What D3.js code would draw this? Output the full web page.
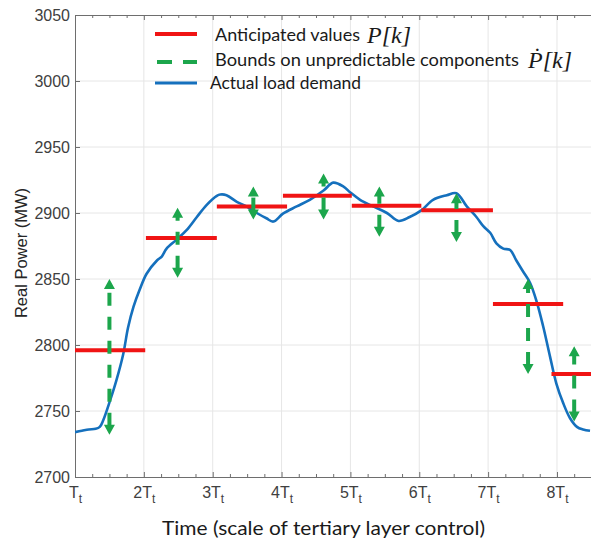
<!DOCTYPE html>
<html lang="en">
<head>
<meta charset="UTF-8">
<title>Load demand vs anticipated values</title>
<style>
  body { margin: 0; background: #fff; }
  svg { display: block; }
  .axis path, .axis line { stroke: #6e6e6e; }
  .axis text { font-family: "Liberation Sans", Arial, sans-serif; font-size: 16px; fill: #404040; }
  .grid line { stroke: #e6e6e6; stroke-width: 1; }
  .label { font-family: Lato, sans-serif; fill: #1a1a1a; }
  .math { font-family: "Liberation Serif", serif; font-size: 24px; font-style: italic; fill: #1a1a1a; }
</style>
<script src="https://d3js.org/d3.v7.min.js"></script>
</head>
<body>
<svg width="591" height="547"></svg>
<script>
// axis ticks
const timeTicks = [1, 2, 3, 4, 5, 6, 7, 8];
const timePrefix = ["", "2", "3", "4", "5", "6", "7", "8"];
const powerTicks = [2700, 2750, 2800, 2850, 2900, 2950, 3000, 3050];

// actual load demand
const demandTime = [1.00, 1.10, 1.20, 1.30, 1.36, 1.41, 1.51, 1.60, 1.70, 1.77, 1.85, 1.94,
  2.04, 2.19, 2.26, 2.33, 2.48, 2.62, 2.77, 2.91, 3.06, 3.11, 3.20, 3.35, 3.49, 3.64, 3.78,
  3.88, 4.02, 4.22, 4.41, 4.61, 4.75, 4.90, 5.00, 5.14, 5.33, 5.53, 5.70, 5.86, 6.03, 6.20,
  6.40, 6.54, 6.69, 6.83, 6.93, 7.03, 7.12, 7.22, 7.32, 7.41, 7.51, 7.61, 7.71, 7.80, 7.90,
  7.99, 8.09, 8.19, 8.29, 8.38, 8.48];
const demandMW = [2734, 2735, 2736, 2736.5, 2738, 2743, 2758, 2773, 2793, 2813, 2829, 2842,
  2854, 2864, 2867, 2873, 2880, 2887, 2897, 2906, 2913, 2914, 2913.5, 2908.5, 2905, 2900, 2896,
  2893.5, 2899.5, 2905, 2910, 2917, 2923, 2920, 2915.5, 2910, 2905, 2900, 2894, 2897, 2902, 2910,
  2913.5, 2915, 2905, 2897, 2890, 2885, 2877, 2873, 2872, 2864, 2855.5, 2847, 2832, 2814, 2791,
  2771, 2756, 2744.5, 2738, 2736, 2735];

// anticipated values P[k]
const segStart = [1.00, 2.03, 3.06, 4.02, 5.02, 6.03, 7.07, 7.92];
const segEnd   = [2.02, 3.06, 4.08, 5.02, 6.03, 7.07, 8.09, 8.60];
const segMW    = [2796, 2881, 2905, 2913, 2905.5, 2902, 2831, 2778];

// bounds on unpredictable components
const boundTime  = [1.50, 2.49, 3.59, 4.61, 5.42, 6.54, 7.58, 8.25];
const boundUpper = [2850, 2904, 2920, 2930, 2920, 2915, 2850, 2799];
const boundLower = [2732, 2851, 2895, 2895, 2882, 2878, 2778, 2742];

const RED = "#f01414", GREEN = "#1ca64c", BLUE = "#1570bd";

const svg = d3.select("svg");
const pLeft = 75, pTop = 15, pBottom = 477, pRight = 591.4;

const x = d3.scaleLinear().domain([1, 8.5]).range([pLeft, pRight]);
const y = d3.scaleLinear().domain([2700, 3050]).range([pBottom, pTop]);

svg.append("defs").append("clipPath").attr("id", "plot")
  .append("rect").attr("x", pLeft).attr("y", pTop)
  .attr("width", 600 - pLeft).attr("height", pBottom - pTop);

// grid
const grid = svg.append("g").attr("class", "grid");
grid.selectAll(".v").data(timeTicks.slice(1)).enter().append("line")
  .attr("x1", d => x(d)).attr("x2", d => x(d))
  .attr("y1", pTop).attr("y2", pBottom);
grid.selectAll(".h").data(powerTicks.slice(1, -1)).enter().append("line")
  .attr("x1", pLeft).attr("x2", 600)
  .attr("y1", d => y(d)).attr("y2", d => y(d));

// axes
const minorTicks = d3.range(1, 8.51, 0.25).filter(t => !timeTicks.includes(t));

svg.append("g").attr("class", "axis")
  .attr("transform", `translate(0,${pBottom})`)
  .call(d3.axisBottom(x).tickValues(minorTicks).tickSize(-3).tickSizeOuter(0).tickFormat(""));

const xAxis = svg.append("g").attr("class", "axis")
  .attr("transform", `translate(0,${pBottom})`)
  .call(d3.axisBottom(x).tickValues(timeTicks).tickSize(-5).tickSizeOuter(0).tickPadding(10));
xAxis.select(".domain").remove();
xAxis.selectAll(".tick text")
  .attr("dy", "0.71em")
  .text(null)
  .each(function(d, i) {
    const t = d3.select(this);
    t.append("tspan").text(timePrefix[i] + "T");
    t.append("tspan").attr("dy", 5).attr("font-size", 12).text("t");
  });

svg.append("g").attr("class", "axis")
  .attr("transform", `translate(0,${pTop})`)
  .call(d3.axisTop(x).tickValues(minorTicks).tickSize(-3).tickSizeOuter(0).tickFormat(""));
svg.append("g").attr("class", "axis")
  .attr("transform", `translate(0,${pTop})`)
  .call(d3.axisTop(x).tickValues(timeTicks).tickSize(-5).tickSizeOuter(0).tickFormat(""))
  .select(".domain").remove();

svg.append("g").attr("class", "axis")
  .attr("transform", `translate(${pLeft},0)`)
  .call(d3.axisLeft(y).tickValues(powerTicks).tickSize(-5).tickSizeOuter(0)
    .tickPadding(5).tickFormat(d3.format("d")));

// axis titles
svg.append("text")
  .attr("transform", "translate(27,253) rotate(-90)")
  .attr("text-anchor", "middle")
  .style("font-family", "'Liberation Sans', Arial, sans-serif")
  .style("font-size", "16.5px").style("fill", "#262626")
  .text("Real Power (MW)");

svg.append("text").attr("class", "label")
  .attr("x", 162).attr("y", 535)
  .attr("textLength", 323).attr("lengthAdjust", "spacingAndGlyphs")
  .style("font-size", "19px")
  .text("Time (scale of tertiary layer control)");

// data layers
const plot = svg.append("g").attr("clip-path", "url(#plot)");

const line = d3.line()
  .x(d => x(d[0])).y(d => y(d[1]))
  .curve(d3.curveCatmullRom);

plot.append("path")
  .datum(demandTime.map((t, i) => [t, demandMW[i]]))
  .attr("d", line)
  .attr("fill", "none")
  .attr("stroke", BLUE)
  .attr("stroke-width", 2.6);

plot.selectAll(".seg").data(segMW).enter().append("line")
  .attr("x1", (d, i) => x(segStart[i]))
  .attr("x2", (d, i) => x(segEnd[i]))
  .attr("y1", d => y(d)).attr("y2", d => y(d))
  .attr("stroke", RED).attr("stroke-width", 4);

const arrows = plot.selectAll(".bound").data(boundTime).enter().append("g");
const head = 10, half = 5.5;
arrows.append("line")
  .attr("x1", d => x(d)).attr("x2", d => x(d))
  .attr("y1", (d, i) => y(boundLower[i]) - head + 1)
  .attr("y2", (d, i) => y(boundUpper[i]) + head - 1)
  .attr("stroke", GREEN).attr("stroke-width", 4)
  .attr("stroke-dasharray", "13,11");
arrows.append("path")
  .attr("fill", GREEN)
  .attr("d", (d, i) => {
    const cx = x(d), yt = y(boundUpper[i]), yb = y(boundLower[i]);
    return `M${cx},${yt}L${cx - half},${yt + head}L${cx + half},${yt + head}Z` +
           `M${cx},${yb}L${cx - half},${yb - head}L${cx + half},${yb - head}Z`;
  });

// legend
const legend = svg.append("g");
legend.append("line").attr("x1", 155).attr("x2", 197).attr("y1", 34).attr("y2", 34)
  .attr("stroke", RED).attr("stroke-width", 4);
legend.append("line").attr("x1", 157).attr("x2", 197).attr("y1", 62).attr("y2", 62)
  .attr("stroke", GREEN).attr("stroke-width", 4).attr("stroke-dasharray", "15,11");
legend.append("line").attr("x1", 155).attr("x2", 197).attr("y1", 83).attr("y2", 83)
  .attr("stroke", BLUE).attr("stroke-width", 3);

const legendText = [
  { text: "Anticipated values", x: 215, y: 41, len: 145 },
  { text: "Bounds on unpredictable components", x: 215, y: 66, len: 304 },
  { text: "Actual load demand", x: 210, y: 89, len: 151 }
];
legend.selectAll(".lt").data(legendText).enter().append("text")
  .attr("class", "label")
  .attr("x", d => d.x).attr("y", d => d.y)
  .attr("textLength", d => d.len).attr("lengthAdjust", "spacingAndGlyphs")
  .style("font-size", "17.5px")
  .text(d => d.text);

legend.append("text").attr("class", "math").attr("x", 367).attr("y", 43).text("P[k]");
legend.append("text").attr("class", "math").attr("x", 528).attr("y", 68).text("\u1E56[k]");
</script>
</body>
</html>
